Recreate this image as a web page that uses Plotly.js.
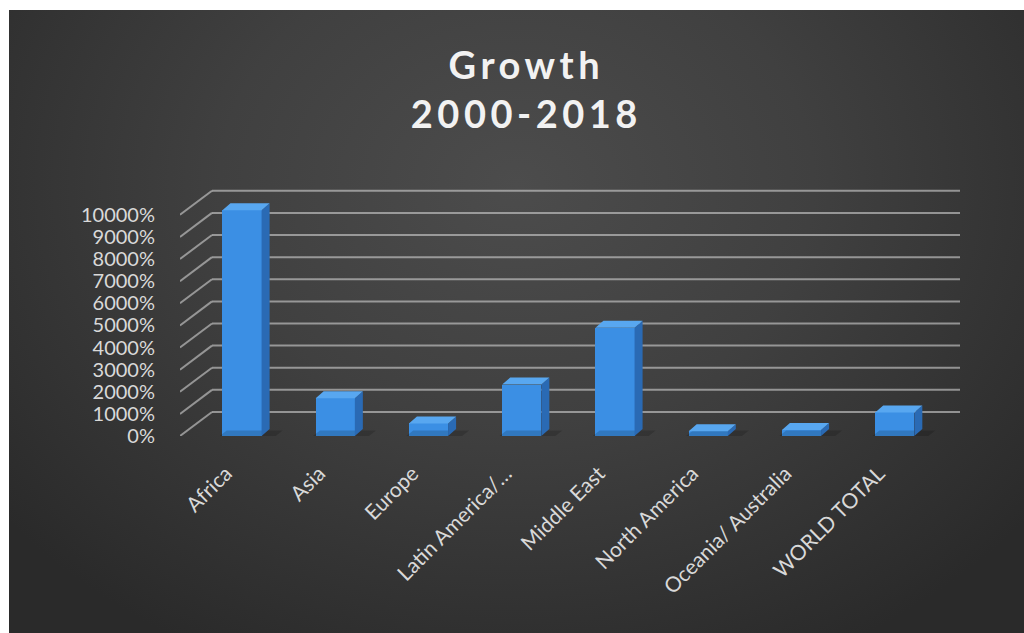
<!DOCTYPE html>
<html>
<head>
<meta charset="utf-8">
<script src="https://cdn.plot.ly/plotly-3.0.1.min.js"></script>
<style>
  html, body { margin: 0; padding: 0; background: #ffffff; width: 1024px; height: 633px; overflow: hidden; }
  #bg { position: absolute; left: 9px; top: 10px; width: 1015px; height: 623px;
        background: radial-gradient(ellipse 65% 85% at 50% 28%, #4c4c4c 0%, #404040 45%, #2a2a2a 100%); }
  #chart { position: absolute; left: 0; top: 0; width: 1024px; height: 633px; }
  .gtitle { letter-spacing: 4.5px; }
</style>
</head>
<body>
<div id="bg"></div>
<div id="chart"></div>
<script>
// ---- data ----
const categories = ["Africa", "Asia", "Europe", "Latin America/\u2026", "Middle East",
                    "North America", "Oceania/ Australia", "WORLD TOTAL"];
const growth = [10199, 1704, 570, 2325, 4894, 219, 273, 1066];
const yTickValues = [0, 1000, 2000, 3000, 4000, 5000, 6000, 7000, 8000, 9000, 10000];
const yTickLabels = yTickValues.map(v => v + "%");

// ---- geometry (axis units) ----
const xIdx = categories.map((c, i) => i);
const xRange = [-0.665, 7.70];
const yRange = [0, 11300];
const wallDx = 0.343, wallDy = 1085;   // depth of the back wall
const barW = 0.42, barDx = 0.086, barDy = 316; // bar depth

const frontColor = "#3b8fe4", sideColor = "#2a6ab4", topColor = "#58a7f0";

// side & top faces of bars (pseudo 3-D)
const sideX = [], sideY = [], topX = [], topY = [], shX = [], shY = [];
xIdx.forEach((x, i) => {
  const v = growth[i];
  const r = x + barW / 2, l = x - barW / 2;
  sideX.push(r, r + barDx, r + barDx, r, r, null);
  sideY.push(0, barDy, v + barDy, v, 0, null);
  topX.push(l, r, r + barDx, l + barDx, l, null);
  topY.push(v, v, v + barDy, v + barDy, v, null);
  shX.push(l - 0.04, r + 0.14, r + 0.14 + barDx, l - 0.04 + barDx, l - 0.04, null);
  shY.push(-40, -40, barDy * 0.8, barDy * 0.8, -40, null);
});

const traces = [
  { type: "scatter", mode: "lines", x: shX, y: shY, fill: "toself",
    fillcolor: "rgba(0,0,0,0.16)", line: { width: 0 }, hoverinfo: "skip", showlegend: false },
  { type: "bar", x: xIdx, y: growth, width: barW,
    marker: { color: frontColor, line: { width: 0 } }, showlegend: false },
  { type: "scatter", mode: "lines", x: sideX, y: sideY, fill: "toself",
    fillcolor: sideColor, line: { width: 0 }, hoverinfo: "skip", showlegend: false },
  { type: "scatter", mode: "lines", x: topX, y: topY, fill: "toself",
    fillcolor: topColor, line: { width: 0 }, hoverinfo: "skip", showlegend: false }
];

// 3-D style gridlines: diagonal from front (label side) to back wall, then across back wall
const gridColor = "rgba(205,205,205,0.62)";
const shapes = [];
yTickValues.forEach(v => {
  shapes.push({ type: "line", xref: "x", yref: "y", layer: "below",
    x0: xRange[0], y0: v, x1: xRange[0] + wallDx, y1: v + wallDy,
    line: { color: gridColor, width: 2 } });
  shapes.push({ type: "line", xref: "x", yref: "y", layer: "below",
    x0: xRange[0] + wallDx, y0: v + wallDy, x1: xRange[1], y1: v + wallDy,
    line: { color: gridColor, width: 2 } });
});

const layout = {
  width: 1024, height: 633,
  margin: { l: 180, r: 64, t: 186, b: 197 },
  paper_bgcolor: "rgba(0,0,0,0)",
  plot_bgcolor: "rgba(0,0,0,0)",
  title: {
    text: "Growth<br>2000-2018",
    font: { family: "Lato, 'Open Sans', sans-serif", size: 38, color: "#f2f2f2", weight: "bold" },
    x: 0.514, xanchor: "center", xref: "container",
    y: 1 - 79 / 633, yanchor: "top", yref: "container"
  },
  xaxis: {
    range: xRange, tickvals: xIdx, ticktext: categories, tickangle: -45,
    showgrid: false, zeroline: false, showline: false,
    ticks: "outside", ticklen: 4, tickcolor: "rgba(0,0,0,0)",
    ticklabelstandoff: 12, ticklabelshift: -16,
    tickfont: { family: "Lato, 'Open Sans', sans-serif", size: 21, color: "#d9d9d9" },
    fixedrange: true
  },
  yaxis: {
    range: yRange, tickvals: yTickValues, ticktext: yTickLabels,
    showgrid: false, zeroline: false, showline: false,
    ticks: "outside", ticklen: 20, tickcolor: "rgba(0,0,0,0)",
    tickfont: { family: "Lato, 'Open Sans', sans-serif", size: 20, color: "#d9d9d9" },
    fixedrange: true
  },
  shapes: shapes,
  bargap: 0
};

Plotly.newPlot("chart", traces, layout, { staticPlot: true, displayModeBar: false });
</script>
</body>
</html>
